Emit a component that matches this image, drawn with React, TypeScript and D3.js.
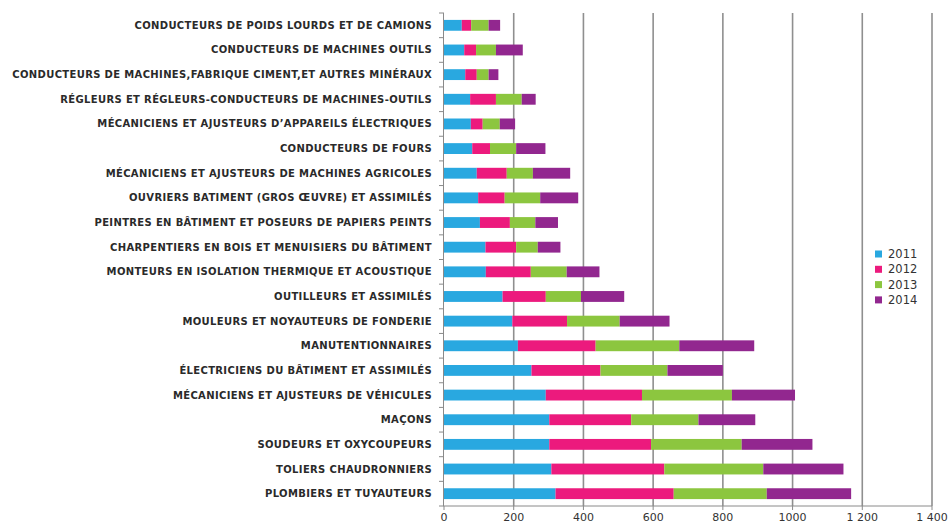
import React from "react";
import * as d3 from "d3";

const categories = [
  "CONDUCTEURS DE POIDS LOURDS ET DE CAMIONS",
  "CONDUCTEURS DE MACHINES OUTILS",
  "CONDUCTEURS DE MACHINES,FABRIQUE CIMENT,ET AUTRES MINÉRAUX",
  "RÉGLEURS ET RÉGLEURS-CONDUCTEURS DE MACHINES-OUTILS",
  "MÉCANICIENS ET AJUSTEURS D’APPAREILS ÉLECTRIQUES",
  "CONDUCTEURS DE FOURS",
  "MÉCANICIENS ET AJUSTEURS DE MACHINES AGRICOLES",
  "OUVRIERS BATIMENT (GROS ŒUVRE) ET ASSIMILÉS",
  "PEINTRES EN BÂTIMENT ET POSEURS DE PAPIERS PEINTS",
  "CHARPENTIERS EN BOIS ET MENUISIERS DU BÂTIMENT",
  "MONTEURS EN ISOLATION THERMIQUE ET ACOUSTIQUE",
  "OUTILLEURS ET ASSIMILÉS",
  "MOULEURS ET NOYAUTEURS DE FONDERIE",
  "MANUTENTIONNAIRES",
  "ÉLECTRICIENS DU BÂTIMENT ET ASSIMILÉS",
  "MÉCANICIENS ET AJUSTEURS DE VÉHICULES",
  "MAÇONS",
  "SOUDEURS ET OXYCOUPEURS",
  "TOLIERS CHAUDRONNIERS",
  "PLOMBIERS ET TUYAUTEURS",
];

const series = ["2011", "2012", "2013", "2014"];

const values2011 = [51, 58, 61, 75, 77, 81, 94, 98, 103, 119, 120, 168, 196, 212, 251, 292, 302, 302, 308, 320];
const values2012 = [27, 34, 33, 74, 34, 51, 86, 76, 86, 88, 129, 124, 157, 223, 198, 276, 235, 292, 324, 339];
const values2013 = [50, 57, 34, 74, 49, 75, 75, 102, 73, 62, 103, 101, 151, 240, 192, 258, 193, 260, 284, 267];
const values2014 = [33, 77, 28, 40, 44, 84, 107, 109, 65, 65, 94, 124, 143, 215, 159, 181, 163, 203, 230, 242];

const xTicks = [0, 200, 400, 600, 800, 1000, 1200, 1400];
const xTickLabels = ["0", "200", "400", "600", "800", "1000", "1 200", "1 400"];

const colors = ["#29A8E0", "#EC1A7D", "#8CC63F", "#92278F"];

export default function App() {
  const W = 949, H = 524;
  const left = 444, right = 932, top = 13, bottom = 506;
  const x = d3.scaleLinear().domain([0, 1400]).range([left, right]);
  const y = d3.scaleBand<string>().domain(categories).range([top, bottom]).paddingInner(0.56).paddingOuter(0.28);
  const table = categories.map((c, i) => ({
    cat: c,
    "2011": values2011[i],
    "2012": values2012[i],
    "2013": values2013[i],
    "2014": values2014[i],
  }));
  const stacked = d3.stack<any>().keys(series)(table);
  const step = (bottom - top) / categories.length;
  const font = "'DejaVu Sans', sans-serif";

  return (
    <svg width={W} height={H} style={{ position: "absolute", left: 0, top: 0, background: "#fff" }}>
      {xTicks.slice(1).map((t) => (
        <line key={t} x1={x(t)} x2={x(t)} y1={top} y2={bottom} stroke="#8f8f8f" strokeWidth={1.6} />
      ))}
      {stacked.map((s, si) => (
        <g key={s.key} fill={colors[si]}>
          {s.map((d, i) => (
            <rect key={i} x={x(d[0])} y={y(categories[i])!} width={x(d[1]) - x(d[0])} height={y.bandwidth()} />
          ))}
        </g>
      ))}
      <line x1={left - 0.5} x2={left - 0.5} y1={top} y2={bottom} stroke="#8a8a8a" strokeWidth={1} />
      {d3.range(categories.length + 1).map((i) => (
        <line key={i} x1={left - 5} x2={left} y1={top + i * step} y2={top + i * step} stroke="#8a8a8a" strokeWidth={1} />
      ))}
      <line x1={left - 0.5} x2={right} y1={bottom} y2={bottom} stroke="#8a8a8a" strokeWidth={1} />
      {xTicks.map((t, i) => (
        <g key={t}>
          <line x1={x(t)} x2={x(t)} y1={bottom} y2={bottom + 4} stroke="#8a8a8a" />
          <text x={x(t)} y={bottom + 15} textAnchor="middle" fontFamily={font} fontSize={11} fill="#333">
            {xTickLabels[i]}
          </text>
        </g>
      ))}
      {categories.map((c) => (
        <text key={c} x={432} y={y(c)! + y.bandwidth() / 2} dy="0.35em" textAnchor="end" fontFamily={font} fontWeight="bold" fontSize={10} letterSpacing={0.35} fill="#2a2a2a">
          {c}
        </text>
      ))}
      {series.map((s, i) => (
        <g key={s} transform={`translate(875, ${254 + i * 15.3})`}>
          <rect x={0} y={-3.5} width={7} height={7} fill={colors[i]} />
          <text x={13} y={0} dy="0.35em" fontFamily={font} fontSize={11.5} fill="#333">{s}</text>
        </g>
      ))}
    </svg>
  );
}
